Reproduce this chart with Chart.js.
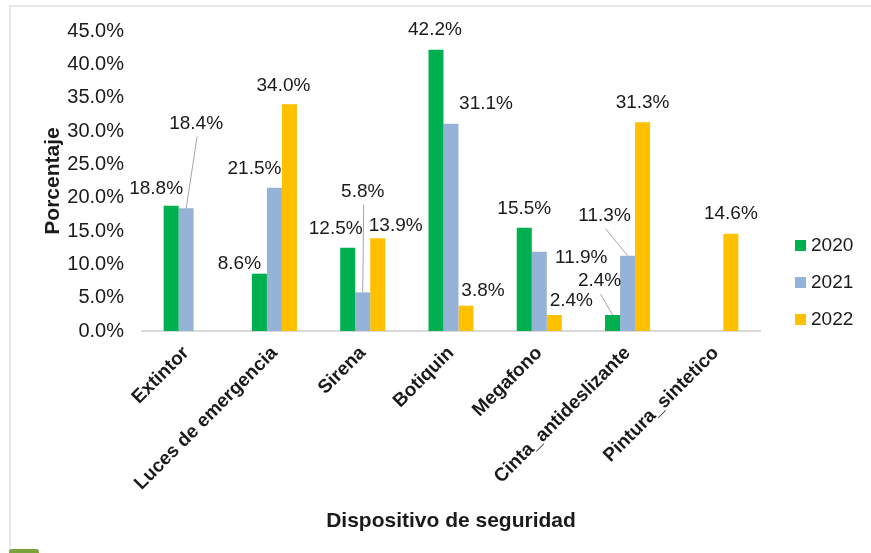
<!DOCTYPE html>
<html>
<head>
<meta charset="utf-8">
<script src="https://cdn.jsdelivr.net/npm/chart.js@4"></script>
<style>
  body { margin: 0; background: #fff; }
  #wrap { position: relative; width: 871px; height: 553px; overflow: hidden; }
  #frame { position: absolute; left: 9px; top: 5px; right: 0; bottom: 0;
           border-top: 2px solid #e6e6e6; border-left: 2px solid #e6e6e6; }
  #tab { position: absolute; left: 9px; top: 549px; width: 30px; height: 8px;
         background: #7aa33c; border-radius: 3px; }
  canvas { position: absolute; left: 0; top: 0; }
</style>
</head>
<body>
<div id="wrap">
  <div id="frame"></div>
  <div id="tab"></div>
  <canvas id="chart" width="871" height="553"></canvas>
</div>
<script>
// Data (percent)
const categories = ['Extintor', 'Luces de emergencia', 'Sirena', 'Botiquin', 'Megafono', 'Cinta_antideslizante', 'Pintura_sintetico'];
const seriesNames = ['2020', '2021', '2022'];
const values2020 = [18.8, 8.6, 12.5, 42.2, 15.5, 2.4, null];
const values2021 = [18.4, 21.5, 5.8, 31.1, 11.9, 11.3, null];
const values2022 = [null, 34.0, 13.9, 3.8, 2.4, 31.3, 14.6];
const yTicks = [0, 5, 10, 15, 20, 25, 30, 35, 40, 45];

const colors = ['#00b050', '#95b3d7', '#ffc000'];

// label placement relative to top of each bar: [dx, dy, leader line?]
const labelPos = [
  [[-15, -17], [-20, -10], [-12, -19], [-1, -20], [0, -19], [-13, -34, true], null],
  [[10, -85, true], [-20, -19], [0, -101, true], [35, -20], [42, 6], [-23, -40, true], null],
  [null, [-6, -19], [18, -13], [17, -15], [17, -14], [0, -20], [0, -20]]
];

const FONT = "'Liberation Sans', Arial, Helvetica, sans-serif";

const barLabels = {
  id: 'barLabels',
  afterDatasetsDraw(chart) {
    const ctx = chart.ctx;
    ctx.save();
    ctx.font = '19px ' + FONT;
    ctx.fillStyle = '#1a1a1a';
    ctx.textAlign = 'center';
    ctx.textBaseline = 'middle';
    chart.data.datasets.forEach((ds, i) => {
      const meta = chart.getDatasetMeta(i);
      meta.data.forEach((bar, j) => {
        const v = ds.data[j];
        const p = labelPos[i][j];
        if (v == null || !p) return;
        const lx = bar.x + p[0], ly = bar.y + p[1];
        if (p[2]) {
          ctx.strokeStyle = '#a6a6a6';
          ctx.lineWidth = 1;
          ctx.beginPath();
          ctx.moveTo(lx + 1, ly + 13);
          ctx.lineTo(bar.x, bar.y);
          ctx.stroke();
        }
        ctx.fillText(v.toFixed(1) + '%', lx, ly);
      });
    });
    ctx.restore();
  }
};

// legend on the right, drawn from the datasets
const sideLegend = {
  id: 'sideLegend',
  afterDraw(chart) {
    const ctx = chart.ctx;
    const x = chart.chartArea.right + 35;
    ctx.save();
    ctx.font = '19px ' + FONT;
    ctx.textBaseline = 'middle';
    ctx.textAlign = 'left';
    chart.data.datasets.forEach((ds, i) => {
      const y = 245 + i * 37;
      ctx.fillStyle = ds.backgroundColor;
      ctx.fillRect(x, y - 5, 11, 11);
      ctx.fillStyle = '#1a1a1a';
      ctx.fillText(ds.label, x + 16, y + 1);
    });
    ctx.restore();
  }
};

new Chart(document.getElementById('chart'), {
  type: 'bar',
  data: {
    labels: categories,
    datasets: [values2020, values2021, values2022].map((d, i) => ({
      label: seriesNames[i],
      data: d,
      backgroundColor: colors[i],
      barPercentage: 1,
      categoryPercentage: 0.51
    }))
  },
  options: {
    responsive: false,
    animation: false,
    layout: { padding: { left: 41, right: 111, top: 31, bottom: 19 } },
    plugins: {
      tooltip: { enabled: false },
      legend: { display: false }
    },
    scales: {
      x: {
        grid: { display: false },
        border: { display: true, color: '#d9d9d9', width: 2 },
        ticks: {
          autoSkip: false,
          minRotation: 45,
          maxRotation: 45,
          color: '#1a1a1a',
          font: { family: FONT, size: 19, weight: 'bold' }
        },
        title: {
          display: true,
          text: 'Dispositivo de seguridad',
          color: '#1a1a1a',
          font: { family: FONT, size: 21, weight: 'bold' },
          padding: { top: 11, bottom: 0 }
        }
      },
      y: {
        min: 0,
        max: 45,
        grid: { display: false, drawTicks: false },
        border: { display: false },
        afterBuildTicks: axis => { axis.ticks = yTicks.map(v => ({ value: v })); },
        afterFit: axis => { axis.width = 101; },
        ticks: {
          padding: 18,
          color: '#1a1a1a',
          font: { family: FONT, size: 20 },
          callback: v => v.toFixed(1) + '%'
        },
        title: {
          display: true,
          text: 'Porcentaje',
          color: '#1a1a1a',
          font: { family: FONT, size: 21, weight: 'bold' },
          padding: { top: 0, bottom: 0 }
        }
      }
    }
  },
  plugins: [barLabels, sideLegend]
});
</script>
</body>
</html>
